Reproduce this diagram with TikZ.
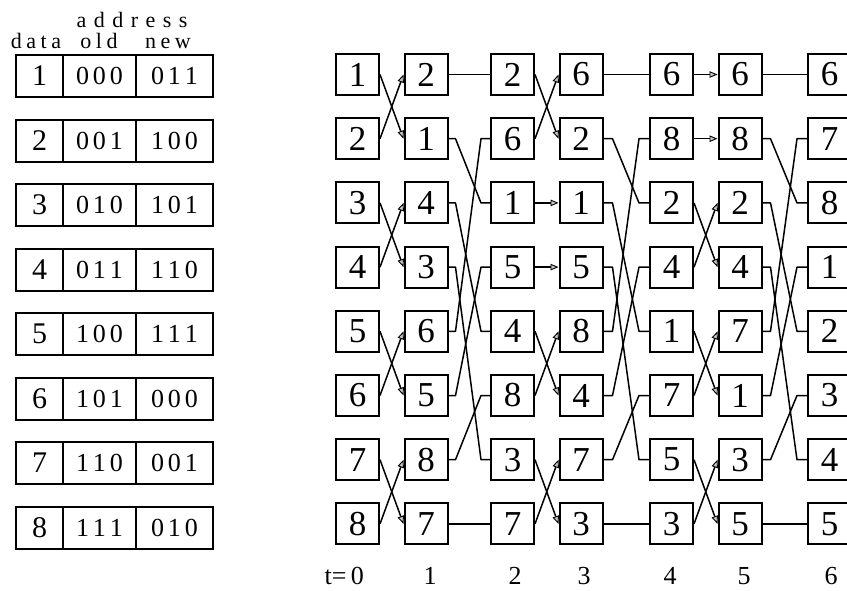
\documentclass[tikz,border=0pt]{standalone}
\usepackage{fontspec}
\setmainfont{Liberation Serif}
\usetikzlibrary{arrows.meta}
\def\LSk{4pt}
\def\LSrest#1{\ifx#1\relax\else\kern\LSk\relax#1\expandafter\LSrest\fi}
\def\LS#1#2\relax{#1\LSrest#2\relax}
\begin{document}
\begin{tikzpicture}[x=1pt,y=-1pt,
  nbox/.style={draw,line width=2pt,minimum width=43pt,minimum height=41pt,inner sep=0pt,
    font=\fontsize{35}{38}\selectfont},
  tcell/.style={draw,line width=2pt,minimum height=42pt,inner sep=0pt},
  tdata/.style={tcell,minimum width=47pt,font=\fontsize{30}{32}\selectfont},
  tcode/.style={tcell,font=\fontsize{26}{28}\selectfont},
  hdr/.style={anchor=base,inner sep=0pt,font=\fontsize{22}{24}\selectfont},
  tlab/.style={inner sep=0pt,font=\fontsize{26}{28}\selectfont},
  ln/.style={line width=1.5pt,line join=round},
  arr/.style={ln,-{Triangle[length=8pt,width=6.5pt,fill=gray!45,line width=0.9pt]}}
]
\useasboundingbox (0,0) rectangle (847,590);

% ---------- table ----------
\node[hdr] (haddr) at (132,27) {\def\LSk{7.5pt}\LS address\relax};
\node[hdr] (hdata) at (36,48) {\def\LSk{4.5pt}\LS data\relax};
\node[hdr] (hold) at (99,48) {\def\LSk{4.5pt}\LS old\relax};
\node[hdr] (hnew) at (168,48) {\def\LSk{4.5pt}\LS new\relax};
\foreach \d/\o/\n [count=\i from 0] in {1/000/011,2/001/100,3/010/101,4/011/110,5/100/111,6/101/000,7/110/001,8/111/010}{
  \node[tdata] (td\i) at (39.5,{76+64.5*\i}) {\d};
  \node[tcode,minimum width=73pt] (to\i) at (99.5,{76+64.5*\i}) {\expandafter\LS\o\relax};
  \node[tcode,minimum width=77pt] (tn\i) at (174.5,{76+64.5*\i}) {\expandafter\LS\n\relax};
}

% ---------- network boxes ----------
\foreach \v [count=\r from 0] in {1,2,3,4,5,6,7,8}
  \node[nbox] (n0-\r) at (357.5,{74.5+64.2*\r}) {\v};
\foreach \v [count=\r from 0] in {2,1,4,3,6,5,8,7}
  \node[nbox] (n1-\r) at (426,{74.5+64.2*\r}) {\v};
\foreach \v [count=\r from 0] in {2,6,1,5,4,8,3,7}
  \node[nbox] (n2-\r) at (512.5,{74.5+64.2*\r}) {\v};
\foreach \v [count=\r from 0] in {6,2,1,5,8,4,7,3}
  \node[nbox] (n3-\r) at (581,{74.5+64.2*\r}) {\v};
\foreach \v [count=\r from 0] in {6,8,2,4,1,7,5,3}
  \node[nbox] (n4-\r) at (671.5,{74.5+64.2*\r}) {\v};
\foreach \v [count=\r from 0] in {6,8,2,4,7,1,3,5}
  \node[nbox] (n5-\r) at (740,{74.5+64.2*\r}) {\v};
\foreach \v [count=\r from 0] in {6,7,8,1,2,3,4,5}
  \node[nbox] (n6-\r) at (829.5,{74.5+64.2*\r}) {\v};

% ---------- stage 0 -> 1 ----------
\foreach \a/\b in {0/1,1/0,2/3,3/2,4/5,5/4,6/7,7/6}
  \draw[arr] (n0-\a.east) -- (n1-\b.west);

% ---------- stage 1 -> 2 ----------
\draw[ln] (n1-0.east) -- (n2-0.west);
\draw[ln] (n1-7.east) -- (n2-7.west);
\foreach \a/\b in {1/2,2/4,3/6,4/1,5/3,6/5}
  \draw[ln] (n1-\a.east) -- ++(7,0) -- ([xshift=-9pt]n2-\b.west) -- (n2-\b.west);

% ---------- stage 2 -> 3 ----------
\foreach \a/\b in {0/1,1/0,4/5,5/4,6/7,7/6}
  \draw[arr] (n2-\a.east) -- (n3-\b.west);
\foreach \a in {2,3}
  \draw[arr] (n2-\a.east) -- (n3-\a.west);

% ---------- stage 3 -> 4 ----------
\draw[ln] (n3-0.east) -- (n4-0.west);
\draw[ln] (n3-7.east) -- (n4-7.west);
\foreach \a/\b in {1/2,2/4,3/6,4/1,5/3,6/5}
  \draw[ln] (n3-\a.east) -- ++(9,0) -- ([xshift=-10pt]n4-\b.west) -- (n4-\b.west);

% ---------- stage 4 -> 5 ----------
\foreach \a in {0,1}
  \draw[arr] (n4-\a.east) -- (n5-\a.west);
\foreach \a/\b in {2/3,3/2,4/5,5/4,6/7,7/6}
  \draw[arr] (n4-\a.east) -- (n5-\b.west);

% ---------- stage 5 -> 6 ----------
\draw[ln] (n5-0.east) -- (n6-0.west);
\draw[ln] (n5-7.east) -- (n6-7.west);
\foreach \a/\b in {1/2,2/4,3/6,4/1,5/3,6/5}
  \draw[ln] (n5-\a.east) -- ++(8,0) -- ([xshift=-10pt]n6-\b.west) -- (n6-\b.west);

% ---------- time labels ----------
\node[tlab,anchor=east] (t0) at (364,576) {t=\,0};
\node[tlab] (t1) at (430,576) {1};
\node[tlab] (t2) at (515,576) {2};
\node[tlab] (t3) at (584,576) {3};
\node[tlab] (t4) at (670,576) {4};
\node[tlab] (t5) at (744,576) {5};
\node[tlab] (t6) at (831,576) {6};
\end{tikzpicture}
\end{document}
